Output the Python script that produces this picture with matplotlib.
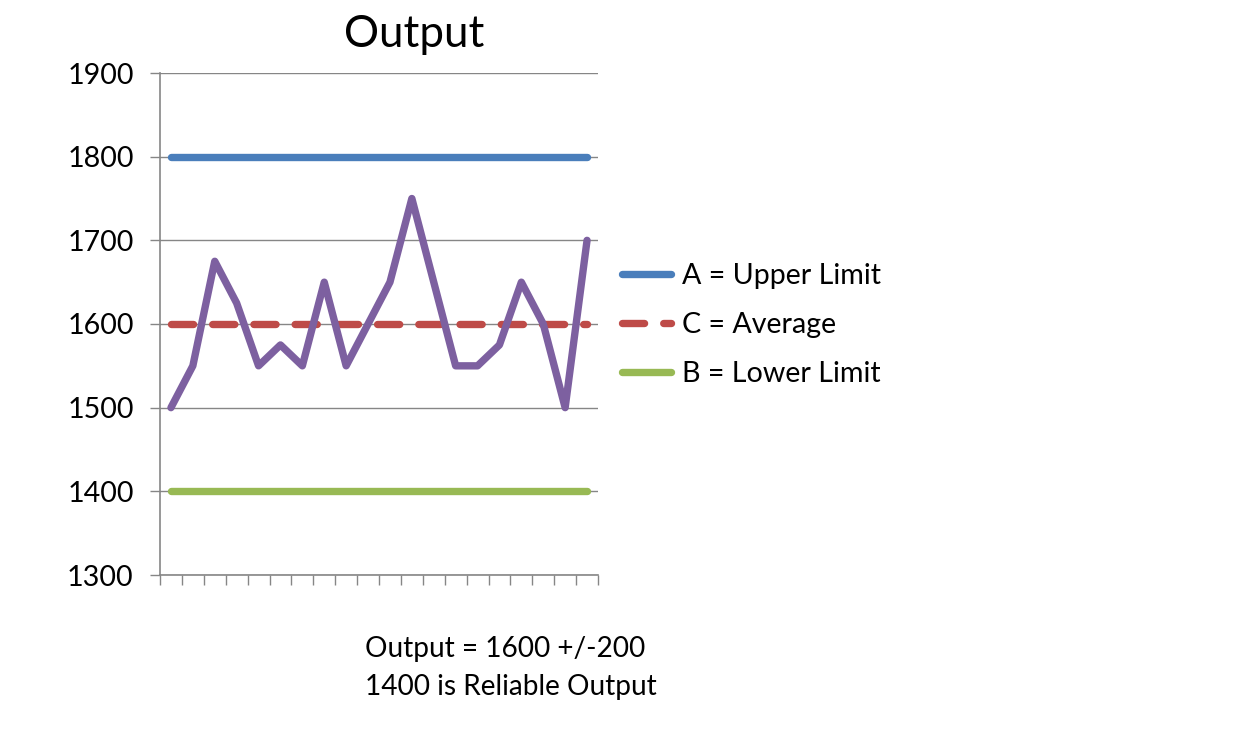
import matplotlib
matplotlib.use("Agg")
import matplotlib.pyplot as plt
import numpy as np

plt.rcParams['font.family'] = ['Lato', 'DejaVu Sans']

categories = list(range(1, 21))
output_values = [1500, 1550, 1675, 1625, 1550, 1575, 1550, 1650, 1550, 1600,
                 1650, 1750, 1650, 1550, 1550, 1575, 1650, 1600, 1500, 1700]
upper_limit = [1800] * 20
average = [1600] * 20
lower_limit = [1400] * 20
yticks = [1300, 1400, 1500, 1600, 1700, 1800, 1900]

W, H = 1251, 734
fig = plt.figure(figsize=(W / 100, H / 100), dpi=100)
ax = fig.add_axes([160 / W, 1 - 575 / H, (598 - 160) / W, (575 - 73) / H])

grid_c = '#868686'
lw = 5.3
lA, = ax.plot(categories, upper_limit, color='#4A7EBB', lw=lw, solid_capstyle='round', label='A = Upper Limit', zorder=3)
lC, = ax.plot(categories, average, color='#BE4B48', lw=lw, dashes=(3, 2.6), dash_capstyle='round', label='C = Average', zorder=3)
lB, = ax.plot(categories, lower_limit, color='#98B954', lw=lw, solid_capstyle='round', label='B = Lower Limit', zorder=3)
ax.plot(categories, output_values, color='#7D60A0', lw=lw, solid_joinstyle='round', solid_capstyle='round', zorder=4)

ax.set_xlim(0.5, 20.5)
ax.set_ylim(1300, 1900)
ax.set_yticks(yticks)
ax.set_xticks(np.arange(0.5, 21, 1.0))
ax.set_xticklabels([])
ax.yaxis.grid(True, color=grid_c, lw=1.0)
ax.set_axisbelow(True)
for s in ['top', 'right']:
    ax.spines[s].set_visible(False)
for s in ['left', 'bottom']:
    ax.spines[s].set_color(grid_c)
    ax.spines[s].set_linewidth(1.2)
ax.tick_params(axis='both', direction='out', length=7, width=1.0, color=grid_c)
ax.tick_params(axis='y', labelsize=20.6, pad=12)

leg = fig.legend(handles=[lA, lC, lB], loc='center left',
                 bbox_to_anchor=(622 / W, 1 - 325 / H), frameon=False,
                 fontsize=20.6, handlelength=1.7, handletextpad=0.4,
                 labelspacing=0.8, borderpad=0, borderaxespad=0)

fig.text(414 / W, 1 - 47 / H, 'Output', fontsize=31.6, ha='center', va='baseline')
fig.text(365 / W, 1 - 657 / H, 'Output = 1600 +/-200', fontsize=20.2, ha='left', va='baseline')
fig.text(365 / W, 1 - 695 / H, '1400 is Reliable Output', fontsize=20.2, ha='left', va='baseline')

fig.savefig('out.png', dpi=100)
